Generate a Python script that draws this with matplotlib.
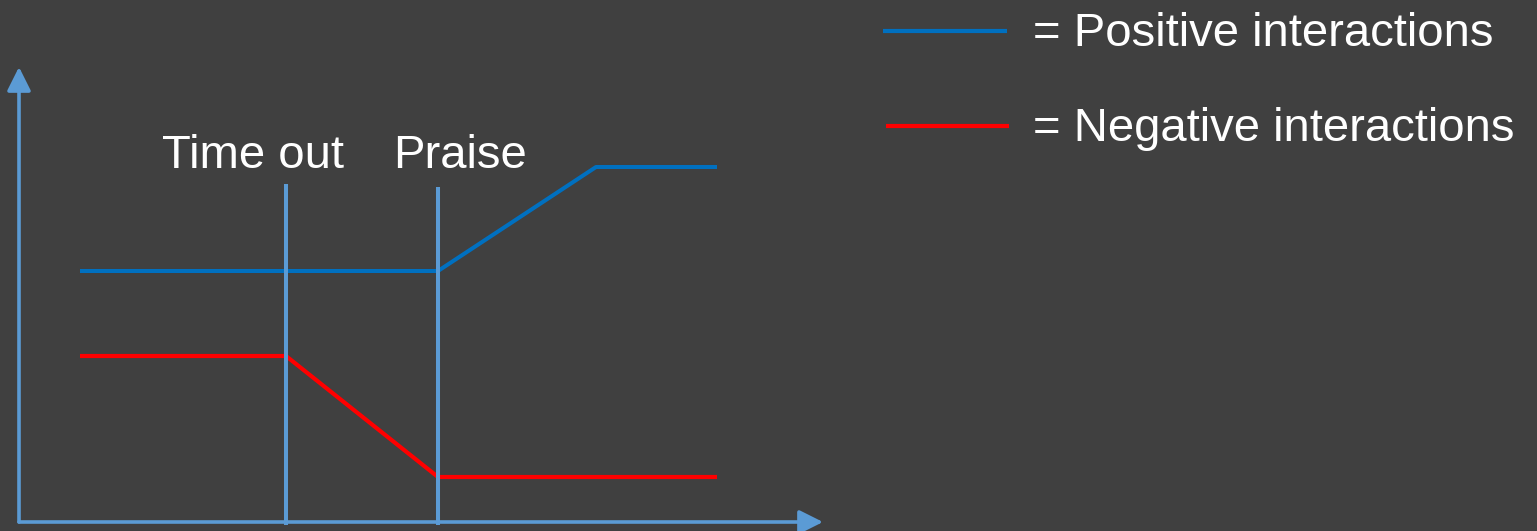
import numpy as np
import matplotlib.pyplot as plt

# values (origin at the corner of the two arrows)
pos_x = [61, 419, 577, 698]
pos_y = [251, 251, 355, 355]
neg_x = [61, 267, 419, 698]
neg_y = [166, 166, 45, 45]
event_x = [267, 419]
event_top = [338, 335]
event_labels = ['Time out', 'Praise']
legend_labels = ['= Positive interactions', '= Negative interactions']

bg = '#404040'
axis_col = '#5B9BD5'
pos_col = '#0070C0'
neg_col = '#FF0000'
plt.rcParams['font.family'] = ['Liberation Sans', 'DejaVu Sans']

fig = plt.figure(figsize=(15.37, 5.31), dpi=100, facecolor=bg)
ax = fig.add_axes([0, 0, 1, 1])
ax.set_facecolor(bg)
ax.set_xlim(-19, 1518)
ax.set_ylim(-9, 522)
ax.axis('off')

# axes arrows
arr = dict(arrowstyle='-|>', color=axis_col, lw=2.6, mutation_scale=36,
           shrinkA=0, shrinkB=0)
ax.annotate('', xy=(0, 455), xytext=(0, 0), arrowprops=arr)
ax.annotate('', xy=(804, 0), xytext=(0, 0), arrowprops=arr)

ax.plot(pos_x, pos_y, color=pos_col, lw=2.9, solid_capstyle='butt', zorder=2)
ax.plot(neg_x, neg_y, color=neg_col, lw=3.0, solid_capstyle='butt', zorder=2)

# event markers
for x, top in zip(event_x, event_top):
    ax.plot([x, x], [-3, top], color=axis_col, lw=2.9, solid_capstyle='butt', zorder=3)
ax.text(234, 354, event_labels[0], color='white', fontsize=34, ha='center', va='baseline')
ax.text(441, 354, event_labels[1], color='white', fontsize=34, ha='center', va='baseline')

# legend drawn by hand
ax.plot([864, 988], [491, 491], color=pos_col, lw=3.0, solid_capstyle='butt')
ax.plot([867, 990], [396, 396], color=neg_col, lw=3.0, solid_capstyle='butt')
ax.text(1014, 476, legend_labels[0], color='white', fontsize=34, ha='left', va='baseline')
ax.text(1014, 381, legend_labels[1], color='white', fontsize=34, ha='left', va='baseline')

plt.savefig('out.png', dpi=100, facecolor=bg)
